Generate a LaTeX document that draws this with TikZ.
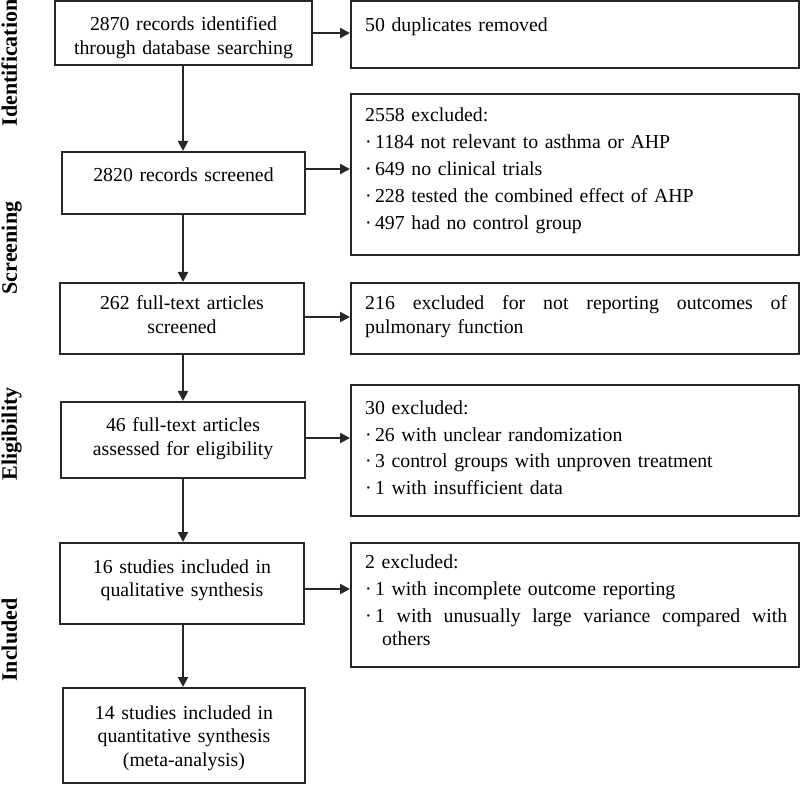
\documentclass[tikz,border=0pt]{standalone}
\usepackage{fontspec}
\setmainfont{Liberation Serif}
\usetikzlibrary{arrows.meta}
\begin{document}
\begin{tikzpicture}[x=1pt,y=1pt,
  box/.style={draw=black!85, line width=2pt, rectangle, inner sep=0pt},
  arr/.style={draw=black!85, line width=2pt, -{Triangle[length=10pt,width=10pt]}},
  ltxt/.style={anchor=base, text width=240pt, align=center, inner sep=0pt, font=\fontsize{19.8}{23.5}\selectfont},
  rtxt/.style={anchor=base west, text width=422pt, align=left, inner sep=0pt, font=\fontsize{19.8}{23.5}\selectfont},
  stage/.style={anchor=base, rotate=90, inner sep=0pt, font=\fontsize{22}{26}\selectfont\bfseries}]
\useasboundingbox (0,0) rectangle (800,785);

% left boxes
\node[box, minimum width=257pt, minimum height=64pt] (l1) at (183.5,752) {};
\node[box, minimum width=243pt, minimum height=62pt] (l2) at (183.5,602) {};
\node[box, minimum width=244pt, minimum height=71pt] (l3) at (182,466.5) {};
\node[box, minimum width=244pt, minimum height=76pt] (l4) at (183,345) {};
\node[box, minimum width=244pt, minimum height=81pt] (l5) at (182,201.5) {};
\node[box, minimum width=242pt, minimum height=95pt] (l6) at (184,49.5) {};

% right boxes
\node[box, minimum width=448pt, minimum height=67pt] (r1) at (575,750.5) {};
\node[box, minimum width=448pt, minimum height=161pt] (r2) at (575,610.5) {};
\node[box, minimum width=448pt, minimum height=71pt] (r3) at (575,466.5) {};
\node[box, minimum width=448pt, minimum height=131pt] (r4) at (575,334.5) {};
\node[box, minimum width=448pt, minimum height=124pt] (r5) at (575,180) {};

% left texts
\node[ltxt] (t1) at (183.5,754) {2870 records identified\\through database searching};
\node[ltxt] (t2) at (183.5,603) {2820 records screened};
\node[ltxt] (t3) at (182,475) {262 full-text articles\\screened};
\node[ltxt] (t4) at (183,353) {46 full-text articles\\assessed for eligibility};
\node[ltxt] (t5) at (182,212) {16 studies included in\\qualitative synthesis};
\node[ltxt] (t6) at (184,66) {14 studies included in\\quantitative synthesis\\(meta-analysis)};

% right texts
\node[rtxt] (s1) at (365,753) {50 duplicates removed};
\node[rtxt] (s2) at (365,663) {2558 excluded:\\[3.5pt]
  ·\,1184 not relevant to asthma or AHP\\[3.5pt]
  ·\,649 no clinical trials\\[3.5pt]
  ·\,228 tested the combined effect of AHP\\[3.5pt]
  ·\,497 had no control group};
\node[rtxt] (s3) at (365,475) {\makebox[422pt][l]{216\hfill excluded\hfill for\hfill not\hfill reporting\hfill outcomes\hfill of}\\
  pulmonary function};
\node[rtxt] (s4) at (365,370) {30 excluded:\\[3pt]
  ·\,26 with unclear randomization\\[3pt]
  ·\,3 control groups with unproven treatment\\[3pt]
  ·\,1 with insufficient data};
\node[rtxt] (s5) at (365,217) {2 excluded:\\[4pt]
  ·\,1 with incomplete outcome reporting\\[3pt]
  \makebox[422pt][l]{·\,1\hfill with\hfill unusually\hfill large\hfill variance\hfill compared\hfill with}\\
  \hspace*{17pt}others};

% stage labels
\node[stage] (g1) at (17,722) {Identification};
\node[stage] (g2) at (17,537) {Screening};
\node[stage] (g3) at (17,351) {Eligibility};
\node[stage] (g4) at (17,145) {Included};

% connector anchors
\coordinate (col) at (183,0);
\coordinate (a1) at (0,752);
\coordinate (a2) at (0,616);
\coordinate (a3) at (0,468);
\coordinate (a4) at (0,347);
\coordinate (a5) at (0,196);

% vertical arrows
\draw[arr] (l1.south -| col) -- (l2.north -| col);
\draw[arr] (l2.south -| col) -- (l3.north -| col);
\draw[arr] (l3.south -| col) -- (l4.north -| col);
\draw[arr] (l4.south -| col) -- (l5.north -| col);
\draw[arr] (l5.south -| col) -- (l6.north -| col);

% horizontal arrows
\draw[arr] (l1.east |- a1) -- (r1.west |- a1);
\draw[arr] (l2.east |- a2) -- (r2.west |- a2);
\draw[arr] (l3.east |- a3) -- (r3.west |- a3);
\draw[arr] (l4.east |- a4) -- (r4.west |- a4);
\draw[arr] (l5.east |- a5) -- (r5.west |- a5);
\end{tikzpicture}
\end{document}
